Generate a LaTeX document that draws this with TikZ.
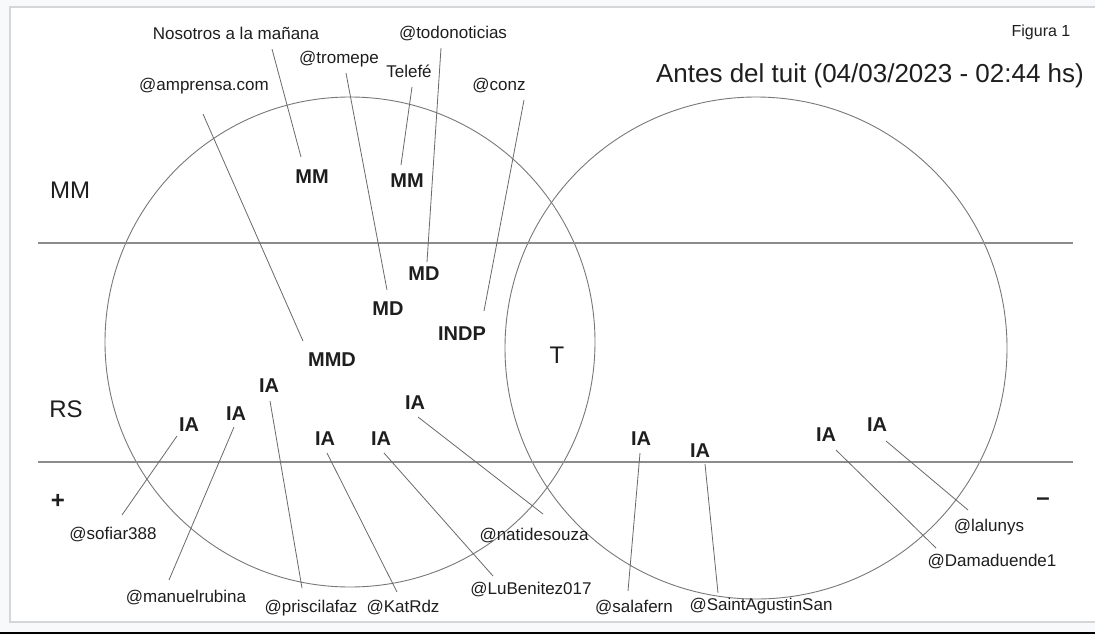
\documentclass[tikz,border=0pt]{standalone}
\usepackage{fontspec}
\setmainfont{Liberation Sans}
\definecolor{pagebg}{RGB}{248,249,250}
\definecolor{framec}{RGB}{212,214,216}
\definecolor{circc}{RGB}{120,120,120}
\definecolor{hlinec}{RGB}{140,140,140}
\definecolor{connc}{RGB}{105,105,105}
\definecolor{txt}{RGB}{30,30,30}
\begin{document}
\begin{tikzpicture}[x=1pt,y=-1pt,
  small/.style={font=\fontsize{17}{20}\selectfont, inner sep=0pt, text=txt},
  cat/.style={font=\fontsize{20}{24}\selectfont\bfseries, inner sep=0pt, text=txt},
  big/.style={font=\fontsize{24}{28}\selectfont, inner sep=0pt, text=txt},
  conn/.style={draw=connc, line width=0.8pt},
  circ/.style={draw=circc, line width=0.9pt},
  hline/.style={draw=hlinec, line width=1.4pt}]
\useasboundingbox (0,0) rectangle (1095,635);
\fill[pagebg] (0,0) rectangle (1095,635);
\filldraw[fill=white, draw=framec, line width=2pt] (10,7) rectangle (1100,622);
\draw[black, line width=2pt] (0,633) -- (1095,633);

% circles
\node[circ, circle, minimum size=490pt, inner sep=0pt] (lc) at (350,342) {};
\node[circ, circle, minimum size=502pt, inner sep=0pt] (rc) at (756,348) {};

% horizontal lines
\coordinate (h1a) at (38,243); \coordinate (h1b) at (1073,243);
\coordinate (h2a) at (38,462); \coordinate (h2b) at (1073,462);
\draw[hline] (h1a) -- (h1b);
\draw[hline] (h2a) -- (h2b);

% headings
\node[small, font=\fontsize{16}{19}\selectfont] (fig) at (1041,32) {Figura 1};
\node[small, font=\fontsize{26}{31}\selectfont] (title) at (870,76) {Antes del tuit (04/03/2023 - 02:44 hs)};
\node[big] (mmL) at (70,190) {MM};
\node[big] (rsL) at (66,409) {RS};
\node[big] (tL) at (557,355) {T};
\node[big, font=\fontsize{24}{28}\selectfont\bfseries] (plus) at (58,501) {+};
\node[big, font=\fontsize{24}{28}\selectfont\bfseries] (minus) at (1043,502) {--};

% category labels
\node[cat] (mm1) at (312,177) {MM};
\node[cat] (mm2) at (407,181) {MM};
\node[cat] (md1) at (424,274) {MD};
\node[cat] (md2) at (388,309) {MD};
\node[cat] (indp) at (462,334) {INDP};
\node[cat] (mmd) at (332,360) {MMD};
\node[cat] (ia1) at (269,386) {IA};
\node[cat] (ia2) at (236,414) {IA};
\node[cat] (ia3) at (189,425) {IA};
\node[cat] (ia4) at (325,439) {IA};
\node[cat] (ia5) at (381,439) {IA};
\node[cat] (ia6) at (415,403) {IA};
\node[cat] (ia7) at (641,439) {IA};
\node[cat] (ia8) at (700,451) {IA};
\node[cat] (ia9) at (826,435) {IA};
\node[cat] (ia10) at (877,425) {IA};

% account labels
\node[small] (nos) at (236,33) {Nosotros a la mañana};
\node[small] (todo) at (453,34) {@todonoticias};
\node[small] (trom) at (339,59) {@tromepe};
\node[small] (tele) at (409,71) {Telefé};
\node[small] (ampr) at (204,86) {@amprensa.com};
\node[small] (conz) at (499,86) {@conz};
\node[small] (sofi) at (113,535) {@sofiar388};
\node[small] (manu) at (186,598) {@manuelrubina};
\node[small] (pris) at (311,608) {@priscilafaz};
\node[small] (kat) at (403,608) {@KatRdz};
\node[small] (nati) at (534,536) {@natidesouza};
\node[small] (lube) at (531,590) {@LuBenitez017};
\node[small] (sala) at (634,608) {@salafern};
\node[small] (sain) at (761,606) {@SaintAgustinSan};
\node[small] (lalu) at (989,527) {@lalunys};
\node[small] (dama) at (992,562) {@Damaduende1};

% connector end points
\coordinate (nos-a) at (272,49);   \coordinate (nos-b) at (301,157);
\coordinate (ampr-a) at (203,114); \coordinate (ampr-b) at (303,341);
\coordinate (trom-a) at (346,73);  \coordinate (trom-b) at (387,290);
\coordinate (tele-a) at (412,87);  \coordinate (tele-b) at (401,165);
\coordinate (todo-a) at (441,48);  \coordinate (todo-b) at (427,262);
\coordinate (conz-a) at (524,100); \coordinate (conz-b) at (484,311);
\coordinate (sofi-a) at (177,436); \coordinate (sofi-b) at (122,515);
\coordinate (manu-a) at (234,427); \coordinate (manu-b) at (169,580);
\coordinate (pris-a) at (270,401); \coordinate (pris-b) at (302,588);
\coordinate (kat-a) at (327,453);  \coordinate (kat-b) at (397,592);
\coordinate (lube-a) at (384,453); \coordinate (lube-b) at (493,576);
\coordinate (nati-a) at (418,417); \coordinate (nati-b) at (543,514);
\coordinate (sala-a) at (640,453); \coordinate (sala-b) at (628,591);
\coordinate (sain-a) at (705,464); \coordinate (sain-b) at (718,593);
\coordinate (dama-a) at (836,450); \coordinate (dama-b) at (936,548);
\coordinate (lalu-a) at (886,441); \coordinate (lalu-b) at (968,510);

\foreach \n in {nos,ampr,trom,tele,todo,conz,sofi,manu,pris,kat,lube,nati,sala,sain,dama,lalu}
  \draw[conn] (\n-a) -- (\n-b);
\end{tikzpicture}
\end{document}
